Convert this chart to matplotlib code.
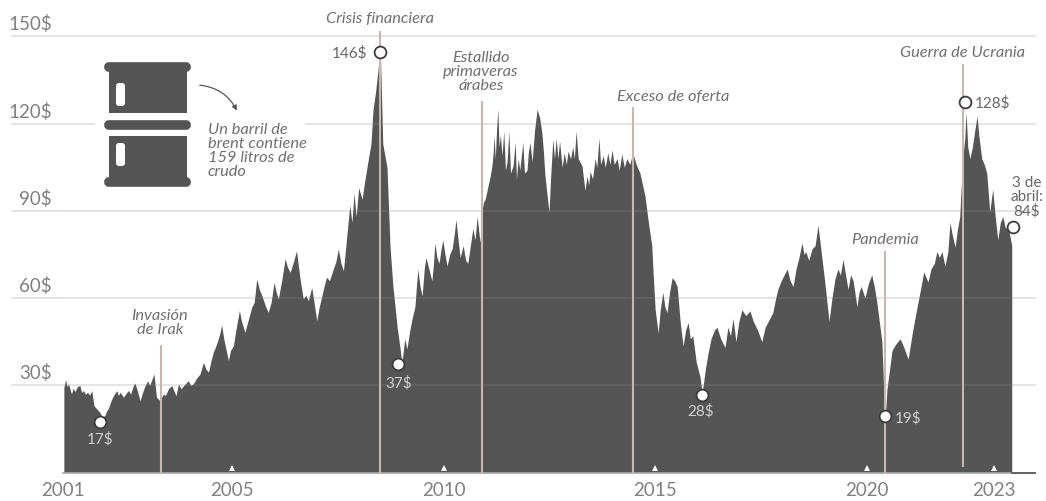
import matplotlib
matplotlib.use("Agg")
import matplotlib.pyplot as plt
from matplotlib.patches import FancyArrowPatch, FancyBboxPatch, Rectangle

plt.rcParams["font.family"] = ["Lato", "DejaVu Sans"]

years = [
    2001.02, 2001.06, 2001.10, 2001.13, 2001.20, 2001.24, 2001.28, 2001.34, 2001.40, 2001.44,
    2001.48, 2001.53, 2001.58, 2001.63, 2001.68, 2001.73, 2001.79, 2001.87, 2001.93, 2001.99,
    2002.04, 2002.07, 2002.13, 2002.19, 2002.27, 2002.31, 2002.35, 2002.43, 2002.49, 2002.54,
    2002.60, 2002.66, 2002.70, 2002.76, 2002.82, 2002.88, 2002.94, 2003.00, 2003.05, 2003.15,
    2003.21, 2003.29, 2003.37, 2003.42, 2003.50, 2003.57, 2003.67, 2003.73, 2003.79, 2003.84,
    2003.96, 2004.02, 2004.08, 2004.16, 2004.24, 2004.32, 2004.38, 2004.44, 2004.50, 2004.55,
    2004.60, 2004.66, 2004.71, 2004.75, 2004.80, 2004.91, 2004.96, 2005.03, 2005.08, 2005.17,
    2005.22, 2005.30, 2005.38, 2005.46, 2005.52, 2005.58, 2005.64, 2005.70, 2005.78, 2005.85,
    2005.92, 2005.99, 2006.04, 2006.09, 2006.17, 2006.25, 2006.31, 2006.37, 2006.45, 2006.52,
    2006.60, 2006.68, 2006.74, 2006.80, 2006.88, 2006.94, 2007.00, 2007.05, 2007.12, 2007.18,
    2007.23, 2007.30, 2007.39, 2007.45, 2007.51, 2007.57, 2007.63, 2007.70, 2007.78, 2007.83,
    2007.88, 2007.93, 2007.99, 2008.07, 2008.13, 2008.22, 2008.28, 2008.33, 2008.39, 2008.45,
    2008.50, 2008.56, 2008.66, 2008.73, 2008.80, 2008.85, 2008.90, 2008.97, 2009.01, 2009.08,
    2009.13, 2009.20, 2009.25, 2009.32, 2009.36, 2009.39, 2009.44, 2009.49, 2009.54, 2009.58,
    2009.65, 2009.72, 2009.76, 2009.79, 2009.84, 2009.89, 2009.94, 2009.98, 2010.03, 2010.08,
    2010.14, 2010.20, 2010.25, 2010.29, 2010.34, 2010.39, 2010.46, 2010.52, 2010.57, 2010.63,
    2010.69, 2010.74, 2010.79, 2010.86, 2010.90, 2010.94, 2010.98, 2011.04, 2011.10, 2011.14,
    2011.17, 2011.19, 2011.22, 2011.25, 2011.28, 2011.31, 2011.34, 2011.38, 2011.42, 2011.46,
    2011.50, 2011.54, 2011.58, 2011.64, 2011.69, 2011.72, 2011.76, 2011.80, 2011.87, 2011.91,
    2011.97, 2012.00, 2012.04, 2012.09, 2012.15, 2012.21, 2012.27, 2012.32, 2012.36, 2012.39,
    2012.44, 2012.49, 2012.53, 2012.58, 2012.62, 2012.66, 2012.70, 2012.74, 2012.80, 2012.85,
    2012.90, 2012.94, 2013.00, 2013.05, 2013.09, 2013.13, 2013.18, 2013.27, 2013.34, 2013.39,
    2013.43, 2013.46, 2013.52, 2013.58, 2013.62, 2013.67, 2013.71, 2013.77, 2013.82, 2013.88,
    2013.93, 2013.98, 2014.03, 2014.10, 2014.15, 2014.21, 2014.27, 2014.33, 2014.40, 2014.47,
    2014.55, 2014.64, 2014.70, 2014.76, 2014.83, 2014.92, 2014.95, 2015.00, 2015.07, 2015.12,
    2015.18, 2015.23, 2015.28, 2015.34, 2015.40, 2015.46, 2015.52, 2015.59, 2015.66, 2015.72,
    2015.78, 2015.83, 2015.89, 2015.97, 2016.06, 2016.11, 2016.18, 2016.25, 2016.32, 2016.40,
    2016.46, 2016.55, 2016.65, 2016.72, 2016.78, 2016.84, 2016.91, 2016.98, 2017.05, 2017.14,
    2017.24, 2017.32, 2017.42, 2017.52, 2017.60, 2017.71, 2017.78, 2017.85, 2017.90, 2017.98,
    2018.05, 2018.12, 2018.19, 2018.26, 2018.33, 2018.40, 2018.47, 2018.52, 2018.56, 2018.63,
    2018.71, 2018.78, 2018.85, 2018.94, 2019.01, 2019.11, 2019.18, 2019.25, 2019.32, 2019.38,
    2019.44, 2019.50, 2019.56, 2019.62, 2019.68, 2019.77, 2019.82, 2019.87, 2019.96, 2020.04,
    2020.12, 2020.18, 2020.24, 2020.36, 2020.41, 2020.44, 2020.48, 2020.60, 2020.68, 2020.79,
    2020.88, 2020.98, 2021.09, 2021.18, 2021.26, 2021.35, 2021.45, 2021.52, 2021.60, 2021.66,
    2021.72, 2021.78, 2021.85, 2021.92, 2021.97, 2022.02, 2022.09, 2022.15, 2022.20, 2022.27,
    2022.32, 2022.35, 2022.39, 2022.44, 2022.50, 2022.56, 2022.61, 2022.66, 2022.72, 2022.78,
    2022.84, 2022.91, 2022.98, 2023.04, 2023.10, 2023.16, 2023.22, 2023.28, 2023.34, 2023.43,
]
prices = [
    29.3, 31.9, 29.5, 30.5, 27.0, 29.0, 27.8, 29.6, 29.9, 27.5,
    28.2, 26.9, 27.6, 26.6, 28.2, 23.0, 22.0, 20.7, 19.0, 19.6,
    21.5, 21.9, 24.5, 26.4, 28.2, 26.5, 27.6, 25.9, 27.2, 28.2,
    27.0, 29.8, 30.8, 28.0, 24.7, 27.5, 29.9, 31.5, 30.0, 33.9,
    25.9, 24.7, 27.0, 26.5, 29.0, 29.9, 26.4, 30.5, 28.8, 29.7,
    31.6, 30.0, 30.5, 32.5, 33.9, 37.9, 35.5, 34.5, 38.5, 41.3,
    43.0, 45.5, 48.0, 50.8, 46.0, 38.5, 42.0, 43.6, 48.5, 55.7,
    52.0, 48.2, 52.5, 56.8, 58.5, 66.6, 63.0, 60.9, 57.5, 55.1,
    58.5, 65.4, 62.0, 59.7, 66.0, 73.5, 70.5, 68.9, 72.5, 76.3,
    67.0, 59.7, 61.0, 59.1, 63.7, 58.0, 52.2, 56.5, 60.8, 64.5,
    67.2, 66.0, 70.0, 72.5, 76.9, 72.0, 69.4, 80.0, 92.0, 86.0,
    96.0, 88.0, 98.0, 94.0, 100.0, 108.0, 113.0, 125.0, 131.0, 139.0,
    146.0, 113.0, 105.0, 78.0, 64.0, 57.0, 50.0, 42.5, 37.5, 46.0,
    42.5, 49.0, 52.8, 57.0, 65.0, 70.0, 64.0, 60.7, 70.0, 74.0,
    70.0, 66.0, 72.0, 79.0, 74.0, 72.0, 77.0, 80.0, 75.0, 71.0,
    75.0, 77.0, 82.0, 87.0, 80.0, 74.0, 78.0, 73.0, 72.0, 78.0,
    84.0, 80.0, 88.0, 79.0, 89.6, 93.0, 94.0, 98.0, 102.0, 105.5,
    110.0, 116.0, 108.0, 118.0, 125.0, 112.0, 116.0, 109.0, 117.5, 104.0,
    107.0, 117.5, 103.0, 105.5, 113.6, 101.0, 108.0, 104.0, 113.6, 103.0,
    104.0, 110.0, 113.6, 107.0, 118.0, 125.0, 122.0, 117.0, 110.0, 103.0,
    96.0, 89.6, 102.0, 114.7, 108.0, 115.0, 108.0, 114.0, 105.0, 110.0,
    106.0, 110.6, 108.0, 112.0, 108.0, 117.5, 108.0, 105.5, 97.0, 102.0,
    99.0, 103.7, 101.0, 108.0, 105.0, 115.0, 106.0, 109.0, 105.0, 110.0,
    106.0, 111.0, 106.0, 108.0, 104.0, 109.6, 105.0, 108.0, 106.0, 110.0,
    106.0, 103.0, 99.0, 95.0, 87.0, 78.0, 69.0, 56.0, 48.0, 56.0,
    62.0, 57.0, 55.0, 62.0, 67.0, 66.0, 64.0, 52.0, 43.5, 49.0,
    51.6, 46.0, 47.0, 38.0, 33.0, 27.0, 35.0, 41.0, 46.0, 49.0,
    50.0, 46.0, 43.0, 50.0, 47.0, 53.0, 45.0, 52.0, 56.0, 54.0,
    55.6, 52.0, 49.0, 45.0, 50.0, 53.0, 55.0, 60.0, 63.0, 66.0,
    68.0, 70.0, 66.0, 64.0, 70.0, 74.0, 79.0, 75.0, 76.0, 73.0,
    77.0, 78.0, 85.0, 74.0, 65.5, 52.0, 60.0, 66.6, 70.0, 68.0,
    73.4, 68.0, 63.0, 68.0, 66.0, 57.0, 62.0, 64.0, 60.0, 65.0,
    68.0, 64.0, 58.6, 45.0, 26.0, 19.0, 28.7, 42.0, 44.0, 46.0,
    43.0, 39.0, 49.0, 56.0, 62.0, 69.0, 65.5, 70.0, 72.0, 76.0,
    74.0, 76.0, 71.0, 76.0, 86.0, 82.0, 77.5, 84.0, 88.0, 108.0,
    115.0, 124.0, 112.0, 108.0, 112.0, 118.0, 122.6, 115.0, 108.0, 106.0,
    103.0, 89.6, 97.5, 88.0, 80.0, 86.0, 88.0, 84.0, 85.0, 78.0,
]

grid_values = [30, 60, 90, 120, 150]
grid_labels = ["30$", "60$", "90$", "120$", "150$"]
tick_years = [2001, 2005, 2010, 2015, 2020, 2023]

event_years = [2003.305, 2008.49, 2010.905, 2014.487, 2020.445, 2022.277]
event_tops = [43.9, 151.9, 127.8, 125.8, 76.2, 140.5]
event_bottoms = [0, 0, 0, 0, 0, 2]

dot_years = [2001.87, 2008.49, 2008.92, 2016.11, 2020.44, 2022.32, 2023.47]
dot_prices = [17.5, 144.6, 37.5, 26.7, 19.4, 127.5, 84.5]

DARK = "#555555"
LINE = "#c9b5b2"
TEXT = "#808080"
NOTE = "#707070"

fig = plt.figure(figsize=(10.46, 5.02), dpi=100)
ax = fig.add_axes([0, 0, 1, 1])
ax.set_xlim(1999.51, 2024.24)
ax.set_ylim(-9.8, 162.9)
ax.axis("off")

for v, lab in zip(grid_values, grid_labels):
    ax.plot([1999.79, 2023.98], [v, v], color="#e2e2e2", lw=1.3, zorder=1)
    ax.annotate(lab, (2000.74, v), xytext=(0, 13), textcoords="offset pixels",
                ha="right", va="center", fontsize=13.5, color=TEXT)

ax.fill_between(years, prices, 0, color=DARK, lw=0, zorder=2)
for v in grid_values:
    ax.plot([years[0], years[-1]], [v, v], color="white", alpha=0.08, lw=1.3, zorder=3)

ax.plot([2001, 2023.98], [0, 0], color="#a8a8a8", lw=1.2, zorder=3)
ax.plot([years[-1], 2023.98], [0, 0], color="#555555", lw=1.2, zorder=3)
ax.vlines(event_years, event_bottoms, event_tops, color=LINE, lw=1.5, zorder=4)
ax.plot(dot_years, dot_prices, "o", ms=8.5, mfc="white", mec="#3c3c3c", mew=1.3, zorder=5)
ax.plot(tick_years[1:], [1.6] * 5, "^", ms=5, color="white", mew=0, zorder=5)

for y in tick_years:
    ax.text(y, -5.9, str(y), ha="center", va="center", fontsize=13.5, color=TEXT)

# capa en pixeles para el icono y los textos
px = fig.add_axes([0, 0, 1, 1])
px.set_xlim(0, 1046)
px.set_ylim(502, 0)
px.axis("off")
px.patch.set_alpha(0)

# hueco de la linea de 120$
px.add_patch(Rectangle((95, 118), 209, 14, color="white", zorder=1))


def cap(y):
    px.add_patch(FancyBboxPatch((108, y + 3), 79, 2, boxstyle="round,pad=0,rounding_size=1",
                                fc=DARK, ec=DARK, lw=5.5, zorder=2))


def body(y0, y1, hole0, hole1):
    px.add_patch(Rectangle((108.5, y0), 78, y1 - y0, fc=DARK, lw=0, zorder=2))
    px.add_patch(FancyBboxPatch((117, hole0 + 1), 7, hole1 - hole0 - 2,
                                boxstyle="round,pad=1,rounding_size=3",
                                fc="white", lw=0, zorder=3))


cap(64)
body(70, 114, 84, 107)
cap(122)
body(137, 181, 144, 167)
cap(179)

px.add_patch(FancyArrowPatch((197, 86), (238, 114), connectionstyle="arc3,rad=-0.3",
                             arrowstyle="-|>", mutation_scale=7, color=DARK, lw=0.9, zorder=2))

notes = [
    (379.5, 19, "Crisis financiera"),
    (481, 72, "Estallido\nprimaveras\nárabes"),
    (673.5, 97, "Exceso de oferta"),
    (160, 323, "Invasión\nde Irak"),
    (963, 53, "Guerra de Ucrania"),
    (885.5, 240, "Pandemia"),
]
for x, y, s in notes:
    px.text(x, y, s, ha="center", va="center", style="italic", fontsize=11.8,
            color=NOTE, linespacing=1.0, zorder=6)
px.text(208, 151, "Un barril de\nbrent contiene\n159 litros de\ncrudo", ha="left", va="center",
        style="italic", fontsize=11.8, color=NOTE, linespacing=1.0, zorder=6)

labels = [
    (100, 439, "17$", "center", "#d0d0d0"),
    (399, 383, "37$", "center", "#d0d0d0"),
    (701, 411, "28$", "center", "#d0d0d0"),
    (895, 418, "19$", "left", "#d0d0d0"),
    (975, 103, "128$", "left", "#666666"),
    (367, 53, "146$", "right", "#666666"),
]
for x, y, s, ha, c in labels:
    px.text(x, y, s, ha=ha, va="center", fontsize=11, color=c, zorder=6)
px.text(1027, 197, "3 de\nabril:\n84$", ha="center", va="center", fontsize=11,
        color="#666666", linespacing=1.0, zorder=6)

fig.savefig("out.png", dpi=100)
plt.close(fig)
